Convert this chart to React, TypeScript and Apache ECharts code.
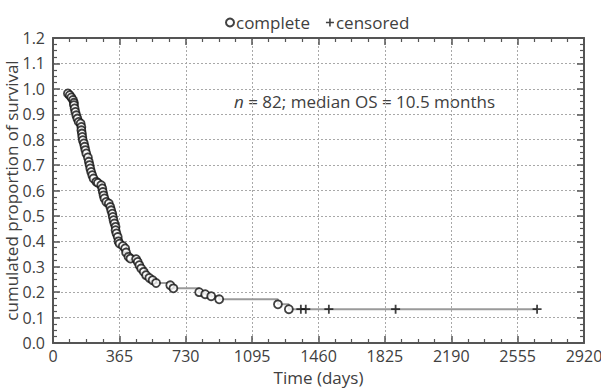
import React, { useEffect, useRef } from "react";
import * as echarts from "echarts";

// Event (death) times in days and survival proportion
const eventDays = [
  82, 92, 101, 110, 115, 115, 119, 123, 128, 134,
  141, 152, 156, 156, 159, 161, 164, 170, 174, 178,
  183, 192, 197, 201, 205, 210, 216, 223, 238, 247,
  265, 271, 274, 278, 283, 293, 307, 315, 320, 326,
  329, 333, 338, 344, 344, 349, 356, 360, 366, 384,
  397, 402, 415, 426, 457, 466, 475, 485, 499, 512,
  530, 548, 567, 645, 662, 804, 837, 870, 914, 1237,
  1297,
];
const eventSurvival = [
  0.982, 0.975, 0.966, 0.956, 0.945, 0.936, 0.923, 0.909, 0.896, 0.883,
  0.87, 0.864, 0.85, 0.837, 0.824, 0.811, 0.798, 0.785, 0.772, 0.759,
  0.746, 0.73, 0.713, 0.7, 0.687, 0.673, 0.66, 0.647, 0.634, 0.63,
  0.621, 0.608, 0.594, 0.581, 0.569, 0.555, 0.549, 0.535, 0.522, 0.509,
  0.496, 0.483, 0.47, 0.457, 0.444, 0.431, 0.417, 0.4, 0.391, 0.382,
  0.372, 0.356, 0.339, 0.332, 0.33, 0.319, 0.306, 0.293, 0.28, 0.267,
  0.256, 0.247, 0.236, 0.227, 0.215, 0.2, 0.192, 0.184, 0.172, 0.152,
  0.133,
];
const censoredDays = [1363, 1390, 1517, 1884, 2662];
const censoredSurvival = [0.133, 0.133, 0.133, 0.133, 0.133];

const xMin = 0;
const xMax = 2920;
const xInterval = 365;
const yMin = 0;
const yMax = 1.2;
const yInterval = 0.1;

const seriesNames = ["complete", "censored"];
const annotation = "{i|n} = 82; median OS = 10.5 months";
const xTitle = "Time (days)";
const yTitle = "cumulated proportion of survival";

const FONT = "Open Sans";
const FS = 17;
const TICK_FS = 16;
const TEXT = "#404040";
const AXIS = "#555555";
const PLUS = "path://M4,0H6V4H10V6H6V10H4V6H0V4H4Z";

export default function App() {
  const ref = useRef<HTMLDivElement>(null);

  useEffect(() => {
    if (!ref.current) return;
    const chart = echarts.init(ref.current, null, { renderer: "svg" });

    const eventPts = eventDays.map((d, i) => [d, eventSurvival[i]]);
    const censPts = censoredDays.map((d, i) => [d, censoredSurvival[i]]);
    const linePts = eventPts.concat([censPts[censPts.length - 1]]);

    const axisCommon = {
      axisLine: { show: true, onZero: false, lineStyle: { color: AXIS, width: 2 } },
      axisTick: { show: true, inside: true, length: 7, lineStyle: { color: AXIS, width: 1.5 } },
      minorTick: { show: true, splitNumber: 4, length: 4, lineStyle: { color: AXIS, width: 1.2 } },
    };

    chart.setOption({
      animation: false,
      backgroundColor: "#ffffff",
      textStyle: { fontFamily: FONT, color: TEXT },
      grid: {
        left: 53,
        right: 17,
        top: 38,
        bottom: 46,
        containLabel: false,
        outerBoundsMode: "none",
      },
      legend: {
        top: 9,
        left: 220,
        itemWidth: 8,
        itemHeight: 8,
        itemGap: 16,
        textStyle: { fontFamily: FONT, fontSize: FS, color: TEXT, padding: [0, 0, 0, -3] },
        data: [
          { name: seriesNames[0], icon: "circle" },
          { name: seriesNames[1], icon: PLUS },
        ],
      },
      xAxis: [
        {
          type: "value",
          min: xMin,
          max: xMax,
          interval: xInterval,
          position: "bottom",
          name: xTitle,
          nameLocation: "middle",
          nameGap: 26,
          nameMoveOverlap: false,
          nameTextStyle: { fontFamily: FONT, fontSize: FS, color: TEXT },
          ...axisCommon,
          axisLabel: {
            fontFamily: FONT,
            fontSize: TICK_FS,
            color: TEXT,
            margin: 5,
            formatter: (v: number) => String(v),
          },
          splitLine: { show: true, lineStyle: { color: "#a8a8a8", type: [2, 2], width: 1 } },
        },
        {
          type: "value",
          min: xMin,
          max: xMax,
          interval: xInterval,
          position: "top",
          ...axisCommon,
          axisLabel: { show: false },
          splitLine: { show: false },
        },
      ],
      yAxis: [
        {
          type: "value",
          min: yMin,
          max: yMax,
          interval: yInterval,
          position: "left",
          name: yTitle,
          nameLocation: "middle",
          nameGap: 33,
          nameMoveOverlap: false,
          nameTextStyle: { fontFamily: FONT, fontSize: FS, color: TEXT },
          ...axisCommon,
          axisLabel: {
            fontFamily: FONT,
            fontSize: TICK_FS,
            color: TEXT,
            margin: 8,
            formatter: (v: number) => v.toFixed(1),
          },
          splitLine: { show: true, lineStyle: { color: "#a8a8a8", type: [2, 2], width: 1 } },
        },
        {
          type: "value",
          min: yMin,
          max: yMax,
          interval: yInterval,
          position: "right",
          ...axisCommon,
          axisLabel: { show: false },
          splitLine: { show: false },
        },
      ],
      series: [
        {
          name: "curve",
          type: "line",
          step: "end",
          data: linePts,
          showSymbol: false,
          symbol: "none",
          lineStyle: { color: "#9a9a9a", width: 2 },
          z: 2,
          silent: true,
        },
        {
          name: seriesNames[0],
          type: "scatter",
          data: eventPts,
          symbol: "circle",
          symbolSize: 8,
          itemStyle: { color: "#ffffff", borderColor: "#111111", borderWidth: 1.8 },
          z: 3,
        },
        {
          name: seriesNames[1],
          type: "scatter",
          data: censPts,
          symbol: PLUS,
          symbolSize: 9,
          itemStyle: { color: "#111111" },
          z: 4,
        },
      ],
      graphic: [
        {
          type: "text",
          x: 234,
          y: 101,
          style: {
            text: annotation,
            fontFamily: FONT,
            fontSize: FS,
            fill: TEXT,
            verticalAlign: "middle",
            rich: { i: { fontStyle: "italic", fontFamily: FONT, fontSize: FS, fill: TEXT } },
          },
        },
      ],
    });

    return () => chart.dispose();
  }, []);

  return (
    <div
      ref={ref}
      style={{ position: "fixed", left: 0, top: 0, width: 601, height: 389 }}
    />
  );
}
